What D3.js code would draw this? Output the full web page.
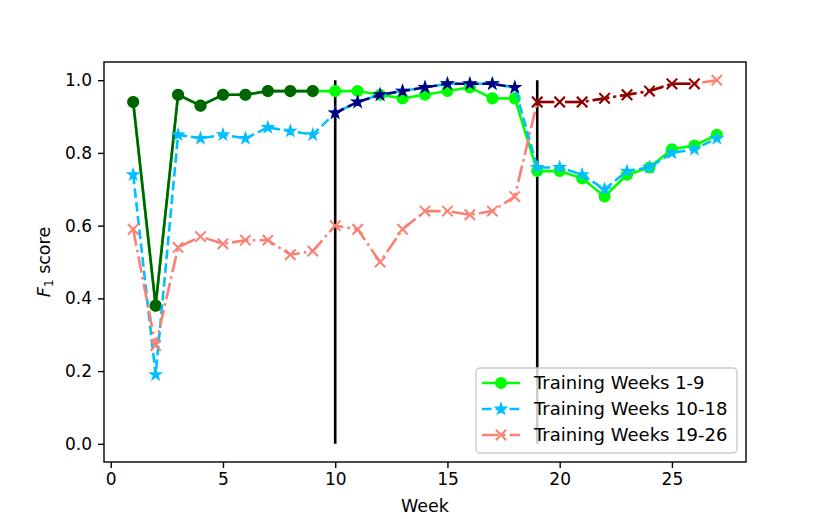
<!DOCTYPE html>
<html>
<head>
<meta charset="utf-8">
<script src="https://cdn.jsdelivr.net/npm/d3@7.9.0/dist/d3.min.js"></script>
<style>
  html, body { margin: 0; padding: 0; background: #fff; }
  svg { display: block; font-family: "DejaVu Sans", sans-serif; }
</style>
</head>
<body>
<svg id="chart" width="830" height="519"></svg>
<script>
/* ------------------------------- Data ------------------------------- */
const weeks = d3.range(1, 28);

// F1 per test week, one array per training window
const scoresTrain1to9 = [0.94, 0.38, 0.96, 0.93, 0.96, 0.96, 0.97, 0.97, 0.97,
  0.97, 0.97, 0.96, 0.95, 0.96, 0.97, 0.98, 0.95, 0.95,
  0.75, 0.75, 0.73, 0.68, 0.74, 0.76, 0.81, 0.82, 0.85];
const scoresTrain10to18 = [0.74, 0.19, 0.85, 0.84, 0.85, 0.84, 0.87, 0.86, 0.85,
  0.91, 0.94, 0.96, 0.97, 0.98, 0.99, 0.99, 0.99, 0.98,
  0.76, 0.76, 0.74, 0.70, 0.75, 0.76, 0.80, 0.81, 0.84];
const scoresTrain19to26 = [0.59, 0.27, 0.54, 0.57, 0.55, 0.56, 0.56, 0.52, 0.53,
  0.60, 0.59, 0.50, 0.59, 0.64, 0.64, 0.63, 0.64, 0.68,
  0.94, 0.94, 0.94, 0.95, 0.96, 0.97, 0.99, 0.99, 1.00];

const seriesLabels = ["Training Weeks 1-9", "Training Weeks 10-18", "Training Weeks 19-26"];
const trainRanges = [[1, 9], [10, 18], [19, 26]];
const boundaryWeeks = [10, 19];
const xTicks = [0, 5, 10, 15, 20, 25];
const yTicks = [0, 0.2, 0.4, 0.6, 0.8, 1.0];

/* ------------------------------ Styling ----------------------------- */
const styles = [
  { light: "#00ff00", dark: "#006400", marker: "circle", dash: null },
  { light: "#00bfff", dark: "#000080", marker: "star", dash: "9.6,4.2" },
  { light: "#fa8072", dark: "#8b0000", marker: "x", dash: "16.7,4.2,2.6,4.2" }
];
const allScores = [scoresTrain1to9, scoresTrain10to18, scoresTrain19to26];

const svg = d3.select("#chart");
const plot = { left: 104, right: 746, top: 62, bottom: 462 };

const x = d3.scaleLinear().domain([-0.3, 28.3]).range([plot.left, plot.right]);
const y = d3.scaleLinear().domain([-0.05, 1.05]).range([plot.bottom, plot.top]);

/* ------------------------------- Axes ------------------------------- */
const xAxis = svg.append("g")
  .attr("transform", `translate(0,${plot.bottom})`)
  .call(d3.axisBottom(x).tickValues(xTicks).tickFormat(d3.format("d")).tickSizeInner(6).tickSizeOuter(0).tickPadding(5));
const yAxis = svg.append("g")
  .attr("transform", `translate(${plot.left},0)`)
  .call(d3.axisLeft(y).tickValues(yTicks).tickFormat(d3.format(".1f")).tickSizeInner(6).tickSizeOuter(0).tickPadding(6));

[xAxis, yAxis].forEach((g) => {
  g.select(".domain").remove();
  g.selectAll(".tick line").attr("stroke", "#000").attr("stroke-width", 1.4);
  g.selectAll(".tick text").attr("fill", "#000").attr("font-size", 17)
    .attr("font-family", "DejaVu Sans, sans-serif");
});

// Vertical markers where the training windows change
svg.append("g").selectAll("line")
  .data(boundaryWeeks)
  .join("line")
  .attr("x1", (d) => x(d)).attr("x2", (d) => x(d))
  .attr("y1", y(0)).attr("y2", y(1))
  .attr("stroke", "#000").attr("stroke-width", 2.6);

/* ------------------------------ Markers ----------------------------- */
const starPath = d3.symbol().type(d3.symbolStar).size(40)();
const crossPath = "M-5.2,-5.2L5.2,5.2M-5.2,5.2L5.2,-5.2";

function addMarker(sel, color, kind) {
  if (kind === "circle") {
    sel.append("circle").attr("r", 5.2)
      .attr("fill", color).attr("stroke", color).attr("stroke-width", 1.7);
  } else if (kind === "star") {
    sel.append("path").attr("d", starPath)
      .attr("fill", color).attr("stroke", color).attr("stroke-width", 1.2);
  } else {
    sel.append("path").attr("d", crossPath)
      .attr("fill", "none").attr("stroke", color).attr("stroke-width", 2);
  }
}

function drawMarkers(g, pts, color, kind) {
  const sel = g.selectAll(null).data(pts).join("g")
    .attr("transform", (d) => `translate(${x(d[0])},${y(d[1])})`);
  addMarker(sel, color, kind);
}

const line = d3.line().x((d) => x(d[0])).y((d) => y(d[1]));

/* ------------------------------- Series ----------------------------- */
allScores.forEach((scores, i) => {
  const st = styles[i];
  const pts = weeks.map((w, j) => [w, scores[j]]);
  const [a, b] = trainRanges[i];
  const trainPts = pts.filter((p) => p[0] >= a && p[0] <= b);
  const g = svg.append("g");

  // full series in light colour
  g.append("path").attr("d", line(pts))
    .attr("fill", "none").attr("stroke", st.light).attr("stroke-width", 2.6)
    .attr("stroke-dasharray", st.dash);
  drawMarkers(g, pts, st.light, st.marker);

  // training weeks overplotted dark
  g.append("path").attr("d", line(trainPts))
    .attr("fill", "none").attr("stroke", st.dark).attr("stroke-width", 2.6)
    .attr("stroke-dasharray", st.dash);
  drawMarkers(g, trainPts, st.dark, st.marker);
});

/* ------------------------------- Frame ------------------------------ */
svg.append("rect")
  .attr("x", plot.left).attr("y", plot.top)
  .attr("width", plot.right - plot.left).attr("height", plot.bottom - plot.top)
  .attr("fill", "none").attr("stroke", "#000").attr("stroke-width", 1.4);

/* ----------------------------- Axis labels -------------------------- */
svg.append("text")
  .attr("x", (plot.left + plot.right) / 2).attr("y", 512)
  .attr("text-anchor", "middle").attr("font-size", 17.5).text("Week");

const yLab = svg.append("text")
  .attr("transform", `translate(50,${(y(0) + y(1)) / 2}) rotate(-90)`)
  .attr("text-anchor", "middle").attr("font-size", 17.5);
yLab.append("tspan").attr("font-style", "italic").text("F");
yLab.append("tspan").attr("font-size", 12).attr("dy", 3).text("1");
yLab.append("tspan").attr("dy", -3).text(" score");

/* ------------------------------- Legend ----------------------------- */
const legend = svg.append("g");
legend.append("rect")
  .attr("x", 476).attr("y", 368).attr("width", 261).attr("height", 85)
  .attr("rx", 4).attr("fill", "#fff").attr("fill-opacity", 0.8)
  .attr("stroke", "#ccc").attr("stroke-width", 1.4);

seriesLabels.forEach((lab, i) => {
  const st = styles[i];
  const cy = 383 + i * 26;
  const row = legend.append("g");
  row.append("line").attr("x1", 482).attr("x2", 520).attr("y1", cy).attr("y2", cy)
    .attr("stroke", st.light).attr("stroke-width", 2.6)
    .attr("stroke-dasharray", st.dash);
  // marker sits in the middle of the handle
  addMarker(row.append("g").attr("transform", `translate(501,${cy})`), st.light, st.marker);
  row.append("text").attr("x", 534).attr("y", cy).attr("dy", "0.35em")
    .attr("font-size", 18).text(lab);
});
</script>
</body>
</html>
